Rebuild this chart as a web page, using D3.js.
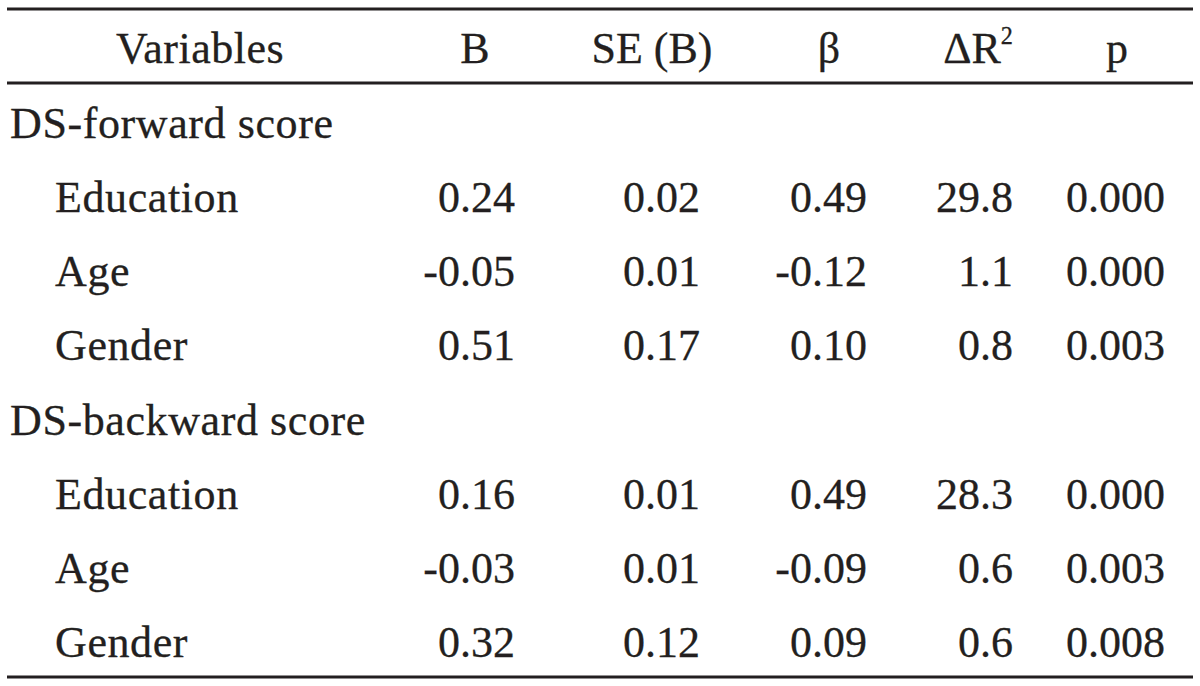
<!DOCTYPE html>
<html>
<head>
<meta charset="utf-8">
<script src="https://cdn.jsdelivr.net/npm/d3@7"></script>
<style>
  html, body { margin: 0; padding: 0; background: #fff; }
  svg { display: block; }
</style>
</head>
<body>
<svg id="chart" width="1200" height="686"></svg>
<script>
// ---- data ----
const headers = ["Variables", "B", "SE (B)", "β", "ΔR2", "p"];
const groups = ["DS-forward score", "DS-backward score"];
const variables = ["Education", "Age", "Gender"];
const B = [["0.24", "-0.05", "0.51"], ["0.16", "-0.03", "0.32"]];
const SE = [["0.02", "0.01", "0.17"], ["0.01", "0.01", "0.12"]];
const beta = [["0.49", "-0.12", "0.10"], ["0.49", "-0.09", "0.09"]];
const dR2 = [["29.8", "1.1", "0.8"], ["28.3", "0.6", "0.6"]];
const pval = [["0.000", "0.000", "0.003"], ["0.000", "0.003", "0.008"]];

// ---- build rows ----
const rows = [];
groups.forEach((g, gi) => {
  rows.push({ type: "group", label: g });
  variables.forEach((v, vi) => {
    rows.push({ type: "var", label: v,
      vals: [B[gi][vi], SE[gi][vi], beta[gi][vi], dR2[gi][vi], pval[gi][vi]] });
  });
});

// ---- layout ----
const ink = "#231f20";
const font = "'Liberation Serif', 'Times New Roman', serif";
const fs = 44;
const lineX0 = 7, lineX1 = 1193;
const yTop = 9, yHead = 83, yBottom = 677;

const svg = d3.select("#chart");

const yRow = d3.scaleBand().domain(d3.range(rows.length)).range([yHead, yBottom]).padding(0);
// column anchors: header centres and numeric right edges
const headCenter = d3.scaleOrdinal().domain(headers).range([200, 475, 652, 829, 978, 1117]);
const valRight = d3.scaleOrdinal().domain(d3.range(5)).range([515, 700, 867, 1013, 1165]);

// rules
[yTop, yHead, yBottom].forEach(y => {
  svg.append("line")
    .attr("x1", lineX0).attr("x2", lineX1)
    .attr("y1", y).attr("y2", y)
    .attr("stroke", ink).attr("stroke-width", 3);
});

// header
const headY = (yTop + yHead) / 2;
const hg = svg.append("g")
  .attr("font-family", font).attr("font-size", fs).attr("fill", ink)
  .attr("stroke", ink).attr("stroke-width", 0.3);
headers.forEach(h => {
  const t = hg.append("text")
    .attr("x", headCenter(h)).attr("y", headY).attr("dy", "0.39em")
    .attr("text-anchor", "middle")
    .attr("letter-spacing", h === "Variables" ? 0.5 : 0);
  if (h === "ΔR2") {
    t.append("tspan").text("ΔR");
    t.append("tspan").attr("font-size", fs * 0.55).attr("dy", "-0.8em").text("2");
  } else {
    t.text(h);
  }
});

// body
const bg = svg.append("g")
  .attr("font-family", font).attr("font-size", fs).attr("fill", ink)
  .attr("stroke", ink).attr("stroke-width", 0.3);
rows.forEach((r, i) => {
  const cy = yRow(i) + yRow.bandwidth() / 2;
  bg.append("text")
    .attr("x", r.type === "group" ? 10 : 55)
    .attr("y", cy).attr("dy", "0.4em")
    .attr("letter-spacing", 0.6)
    .text(r.label);
  if (r.type === "var") {
    r.vals.forEach((v, ci) => {
      bg.append("text")
        .attr("x", valRight(ci)).attr("y", cy).attr("dy", "0.4em")
        .attr("text-anchor", "end")
        .text(v);
    });
  }
});
</script>
</body>
</html>
